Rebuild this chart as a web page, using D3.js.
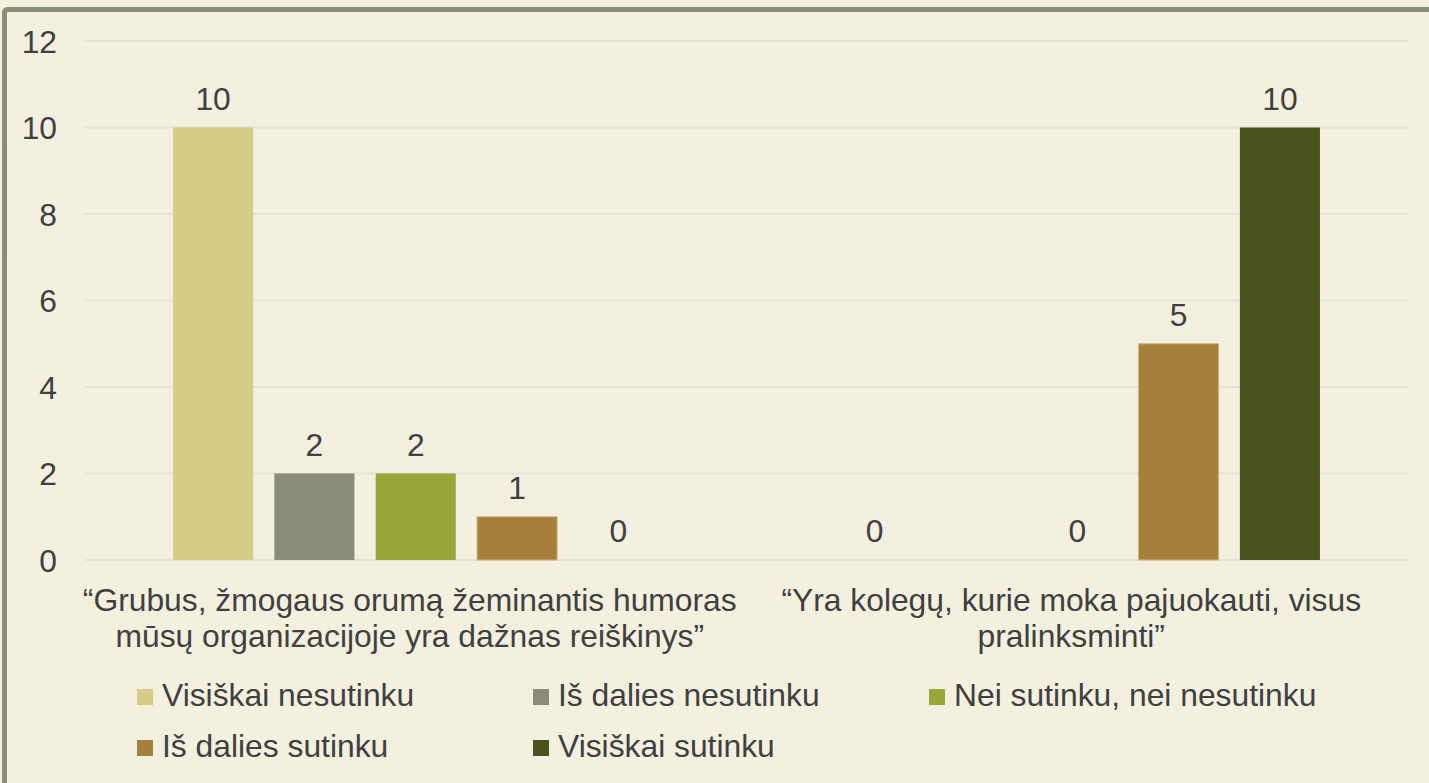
<!DOCTYPE html>
<html>
<head>
<meta charset="utf-8">
<script src="https://cdn.jsdelivr.net/npm/d3@7"></script>
<style>
  html, body { margin: 0; padding: 0; background: #F3F0DF; }
  svg { display: block; }
</style>
</head>
<body>
<svg id="chart" width="1429" height="783"></svg>
<script>
// ---- data ----
const categories = [
  ["“Grubus, žmogaus orumą žeminantis humoras", "mūsų organizacijoje yra dažnas reiškinys”"],
  ["“Yra kolegų, kurie moka pajuokauti, visus", "pralinksminti”"]
];
const seriesNames = ["Visiškai nesutinku", "Iš dalies nesutinku", "Nei sutinku, nei nesutinku", "Iš dalies sutinku", "Visiškai sutinku"];
const seriesColors = ["#D6CC88", "#898C76", "#9BA63A", "#A67F3D", "#4B531E"];
// values per series: [category 1, category 2]
const visiskaiNesutinku = [10, 0];
const isDaliesNesutinku = [2, null];
const neiSutinku = [2, 0];
const isDaliesSutinku = [1, 5];
const visiskaiSutinku = [0, 10];
const seriesValues = [visiskaiNesutinku, isDaliesNesutinku, neiSutinku, isDaliesSutinku, visiskaiSutinku];
const yTicks = [0, 2, 4, 6, 8, 10, 12];

// ---- layout ----
const svg = d3.select("#chart");
const W = 1429, H = 783;
const font = "'Liberation Sans', Arial, sans-serif";
const textColor = "#404040";
const fs = 31.8;
const plot = { left: 85, right: 1408, top: 41, bottom: 560 };

svg.append("rect").attr("width", W).attr("height", H).attr("fill", "#F3F0DF");
// frame
svg.append("rect").attr("x", 4.5).attr("y", 9.5).attr("width", 1500).attr("height", 800)
  .attr("rx", 3).attr("fill", "none").attr("stroke", "#8B8E76").attr("stroke-width", 5);

const y = d3.scaleLinear().domain([0, 12]).range([plot.bottom, plot.top]);
const x0 = d3.scaleBand().domain(d3.range(categories.length)).range([plot.left, plot.right]).padding(0);
const x1 = d3.scaleBand().domain(d3.range(seriesNames.length))
  .range([77.4, x0.bandwidth() - 77.4]).paddingInner(0.21).paddingOuter(0.105);

// gridlines
svg.append("g").selectAll("line").data(yTicks).join("line")
  .attr("x1", plot.left).attr("x2", plot.right)
  .attr("y1", d => y(d)).attr("y2", d => y(d))
  .attr("stroke", "#E3E1D8").attr("stroke-width", 2);

// y axis labels
const yAxis = d3.axisLeft(y).tickValues(yTicks).tickSize(0).tickPadding(0).tickFormat(d3.format("d"));
const gy = svg.append("g").attr("transform", `translate(57,0)`).call(yAxis);
gy.select(".domain").remove();
gy.selectAll("text").attr("font-family", font).attr("font-size", fs).attr("fill", textColor)
  .attr("dy", "0.36em").attr("text-anchor", "end");

// bars
const groups = svg.append("g").selectAll("g").data(categories).join("g")
  .attr("transform", (d, i) => `translate(${x0(i)},0)`);

groups.each(function(cat, ci) {
  const g = d3.select(this);
  seriesNames.forEach((s, si) => {
    const v = seriesValues[si][ci];
    if (v === null || v === undefined) return;
    if (v > 0) {
      g.append("rect")
        .attr("x", x1(si)).attr("width", x1.bandwidth())
        .attr("y", y(v)).attr("height", y(0) - y(v))
        .attr("fill", seriesColors[si])
        .attr("stroke", si === 3 ? "#D4B27A" : "none").attr("stroke-width", si === 3 ? 1 : 0);
    }
    g.append("text")
      .attr("x", x1(si) + x1.bandwidth() / 2).attr("y", y(v) - 18)
      .attr("text-anchor", "middle").attr("font-family", font).attr("font-size", fs)
      .attr("fill", textColor).text(v);
  });
});

// category labels
const labelShift = -6;
categories.forEach((lines, ci) => {
  const cx = x0(ci) + x0.bandwidth() / 2 + labelShift;
  lines.forEach((ln, li) => {
    svg.append("text").attr("x", cx).attr("y", 611 + li * 36)
      .attr("text-anchor", "middle").attr("font-family", font).attr("font-size", fs)
      .attr("fill", textColor).text(ln);
  });
});

// legend
const legCols = [137, 533, 929];
const legRows = [689, 740];
seriesNames.forEach((s, i) => {
  const col = i % 3, row = Math.floor(i / 3);
  const lx = legCols[col], ly = legRows[row];
  svg.append("rect").attr("x", lx).attr("y", ly).attr("width", 16).attr("height", 16)
    .attr("fill", seriesColors[i]);
  svg.append("text").attr("x", lx + 25).attr("y", ly + 17)
    .attr("font-family", font).attr("font-size", fs).attr("fill", textColor).text(s);
});
</script>
</body>
</html>
